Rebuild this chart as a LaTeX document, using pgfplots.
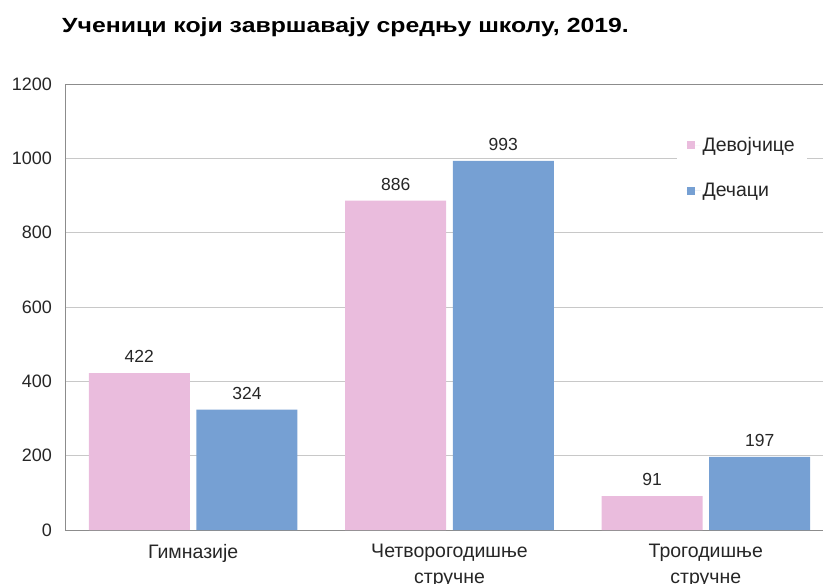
\documentclass[border=0pt]{standalone}
\usepackage{fontspec}
\setmainfont{Liberation Sans}
\usepackage{graphicx}
\usepackage{pgfplots}
\pgfplotsset{compat=1.18}
\definecolor{pinkbar}{HTML}{EABCDD}
\definecolor{bluebar}{HTML}{76A0D3}
\definecolor{gridgray}{HTML}{C8C8C8}
\definecolor{axgray}{HTML}{8C8C8C}
\definecolor{txt}{HTML}{262626}
\newcommand{\num}{\fontsize{17.5}{20}\selectfont}
\newcommand{\tnum}{\fontsize{18}{20}\selectfont}
\newcommand{\lab}{\fontsize{19.5}{26}\selectfont}
\begin{document}
\begin{tikzpicture}
\useasboundingbox (0pt,0pt) rectangle (823pt,-584pt);
\node[anchor=west, inner sep=0pt, text=black, font=\bfseries\fontsize{20.5}{22}\selectfont] at (62pt,-27pt) {\scalebox{1.21}[1]{Ученици који завршавају средњу школу, 2019.}};
\begin{axis}[
  at={(65pt,-530pt)}, anchor=south west,
  scale only axis, width=769pt, height=446pt,
  xmin=-0.5, xmax=2.5, ymin=0, ymax=1200,
  ybar, bar width=0.394,
  axis line style={axgray, line width=0.9pt},
  major tick length=0pt,
  ytick={0,200,...,1200},
  ymajorgrids, grid style={gridgray, line width=0.8pt},
  xtick={0,1,2},
  xticklabels={Гимназије,{Четворогодишње\\стручне},{Трогодишње\\стручне}},
  xticklabel style={align=center, font=\lab, text=txt, inner sep=0pt, anchor=north, yshift=-14pt},
  yticklabel style={font=\tnum, text=txt, inner sep=0pt, anchor=east, xshift=-13pt},
  /pgf/number format/assume math mode=true,
  /pgf/number format/1000 sep={},
  nodes near coords,
  every node near coord/.append style={font=\num, text=txt, inner sep=0pt, anchor=south, yshift=10pt},
  legend style={at={(0.795,0.903)}, anchor=north west, draw=none, fill=white, font=\lab, text=txt,
    row sep=26pt, inner xsep=10pt, inner ysep=8pt, cells={anchor=west}},
  legend image code/.code={\fill[#1,draw=none] (0pt,-4pt) rectangle (8pt,4pt);\path (0pt,0pt) -- (14pt,0pt);},
]
\addplot[fill=pinkbar, draw=none, bar shift=-0.21] coordinates {(0,422) (1,886) (2,91)};
\addplot[fill=bluebar, draw=none, bar shift=0.21] coordinates {(0,324) (1,993) (2,197)};
\legend{Девојчице, Дечаци}
\end{axis}
\end{tikzpicture}
\end{document}
